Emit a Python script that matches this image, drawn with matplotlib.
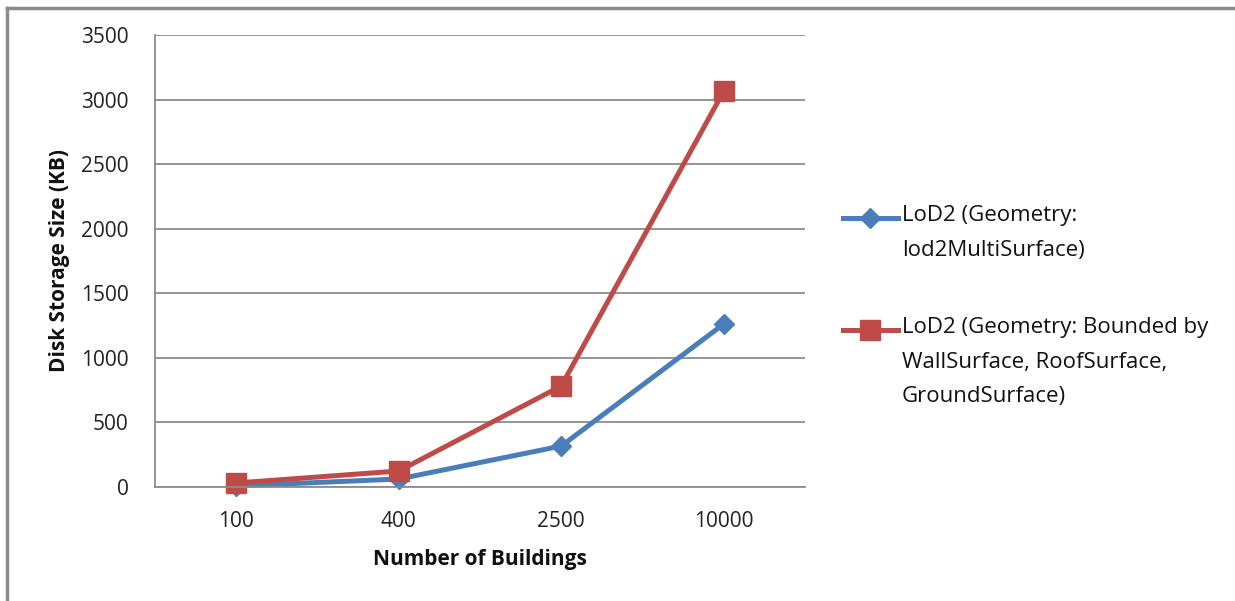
import matplotlib.pyplot as plt
from matplotlib.lines import Line2D

plt.rcParams['font.family'] = ['Open Sans', 'DejaVu Sans']

# Data
buildings = ["100", "400", "2500", "10000"]
multisurface = [8, 62, 317, 1262]
bounded = [31, 124, 782, 3065]
labels = ["LoD2 (Geometry:\nlod2MultiSurface)",
          "LoD2 (Geometry: Bounded by\nWallSurface, RoofSurface,\nGroundSurface)"]

blue = '#4a7ebb'
red = '#be4b48'
W, H = 1235, 601

fig = plt.figure(figsize=(12.35, 6.01), dpi=100)
ax = fig.add_axes([155 / W, 1 - 487 / H, 650 / W, 452 / H])

x = range(len(buildings))
ax.plot(x, multisurface, color=blue, lw=3.6, marker='D', ms=10,
        solid_capstyle='round', clip_on=False)
ax.plot(x, bounded, color=red, lw=3.6, marker='s', ms=14,
        solid_capstyle='round', clip_on=False)

ax.set_xlim(-0.5, 3.5)
ax.set_ylim(0, 3500)
ax.set_yticks(range(0, 3501, 500))
ax.set_xticks(list(x))
ax.set_xticklabels(buildings)
ax.grid(axis='y', color='#8c8c8c', lw=1.3)
ax.set_axisbelow(True)
for side in ['top', 'right']:
    ax.spines[side].set_visible(False)
for side in ['left', 'bottom']:
    ax.spines[side].set_color('#8c8c8c')
    ax.spines[side].set_linewidth(1.3)
ax.tick_params(length=0, labelsize=15, colors='#222222')
ax.tick_params(axis='y', pad=19)
ax.tick_params(axis='x', pad=17)

ax.set_xlabel("Number of Buildings", fontsize=15, fontweight='bold', color='#111111')
ax.set_ylabel("Disk Storage Size (KB)", fontsize=15, fontweight='bold', color='#111111')
ax.xaxis.set_label_coords(0.5, (487 - 549) / 452)
ax.yaxis.set_label_coords((70 - 155) / 650, 0.5)

# legend drawn by hand so the key sits on the first text line
legend_rows = [(218, blue, 'D', 10), (330, red, 's', 14)]
for (ypx, col, mk, ms), lab in zip(legend_rows, labels):
    yf = 1 - ypx / H
    fig.add_artist(Line2D([843 / W, 898 / W], [yf, yf], color=col, lw=3.6))
    fig.add_artist(Line2D([870 / W], [yf], color=col, marker=mk, ms=ms, lw=0))
    fig.text(902 / W, 1 - (ypx - 13) / H, lab, fontsize=16, va='top',
             ha='left', linespacing=1.85, color='#111111')

# outer chart border (top and left only visible)
fig.add_artist(Line2D([7 / W, 1], [1 - 8 / H, 1 - 8 / H], color='#8c8c8c', lw=2.5))
fig.add_artist(Line2D([7 / W, 7 / W], [0, 1 - 8 / H], color='#8c8c8c', lw=2.5))

fig.savefig("out.png", dpi=100)
